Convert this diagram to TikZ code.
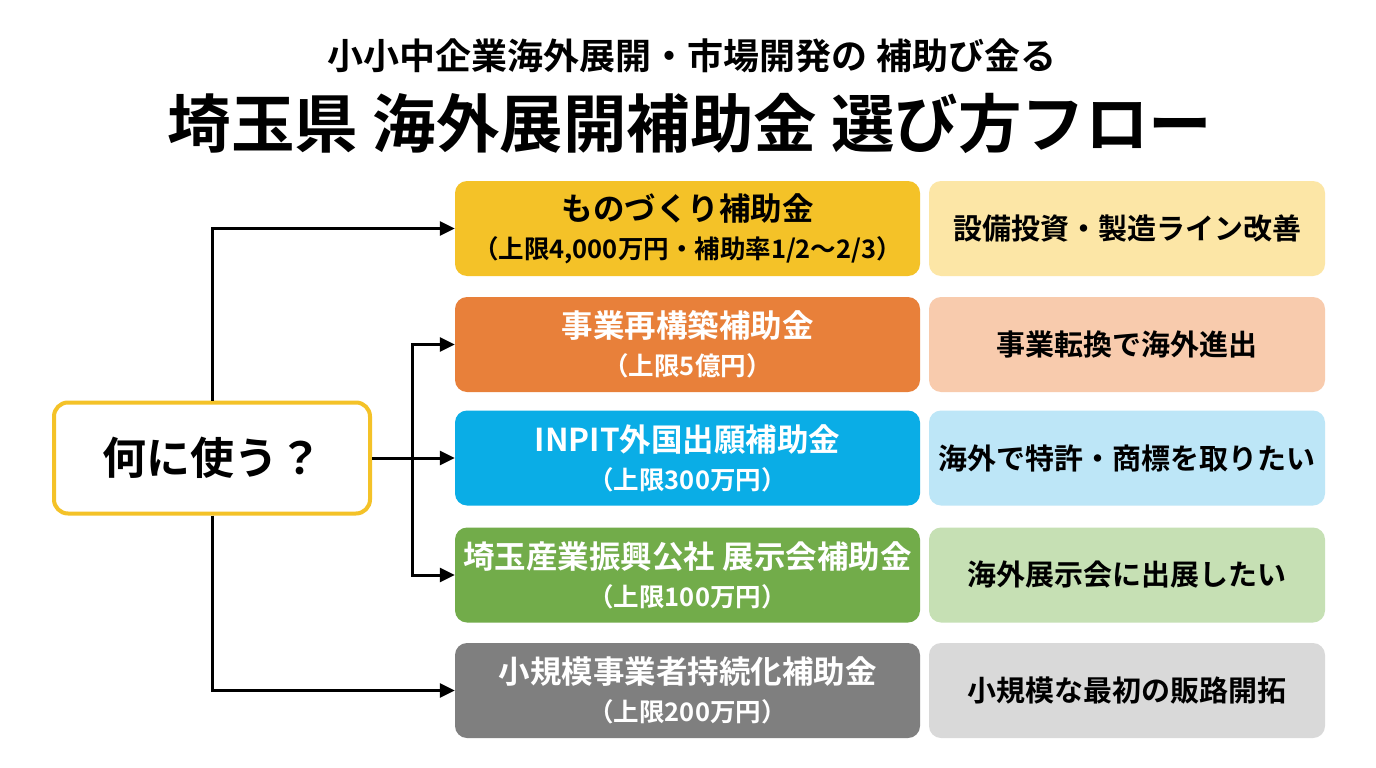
\documentclass[tikz,border=0pt]{standalone}
\usepackage{fontspec}
\setmainfont{Noto Sans CJK JP}[BoldFont={Noto Sans CJK JP Bold}]
\usetikzlibrary{arrows.meta}
\definecolor{cyellow}{HTML}{F4C228}
\definecolor{corange}{HTML}{E8803A}
\definecolor{cblue}{HTML}{0AADE6}
\definecolor{cgreen}{HTML}{72AC4A}
\definecolor{cgray}{HTML}{7F7F7F}
\definecolor{lyellow}{HTML}{FCE6A6}
\definecolor{lorange}{HTML}{F8CBAD}
\definecolor{lblue}{HTML}{BDE6F7}
\definecolor{lgreen}{HTML}{C6E0B4}
\definecolor{lgray}{HTML}{D9D9D9}
\tikzset{
  grant/.style={rounded corners=12pt, minimum width=465pt, minimum height=95pt,
    align=center, text=white, font=\bfseries\fontsize{25.5}{38}\selectfont},
  purpose/.style={rounded corners=12pt, minimum width=396pt, minimum height=95pt,
    font=\bfseries\fontsize{29}{34}\selectfont},
  branch/.style={line width=3pt, -{Triangle[length=15pt,width=14pt]}}
}
\newcommand{\grantname}[1]{{\fontsize{31.5}{38}\selectfont #1}}
\begin{document}
\begin{tikzpicture}[x=1pt, y=-1pt]
  \fill[white] (0,0) rectangle (1376,768);
  \useasboundingbox (0,0) rectangle (1376,768);
  % titles
  \node[font=\bfseries\fontsize{36}{42}\selectfont] (subtitle) at (692,56) {小小中企業海外展開・市場開発の 補助び金る};
  \node[font=\bfseries\fontsize{63.5}{72}\selectfont] (title) at (690,123) {埼玉県 海外展開補助金 選び方フロー};
  % start
  \node[draw=cyellow, line width=4pt, fill=white, rounded corners=14pt, minimum width=316pt,
    minimum height=111pt, font=\bfseries\fontsize{44}{50}\selectfont] (use) at (212,458) {何に使う？};
  % grants
  \node[grant, fill=cyellow, text=black] (mono) at (687.5,228.5) {\grantname{ものづくり補助金}\\（上限4,000万円・補助率1/2〜2/3）};
  \node[grant, fill=corange] (restr) at (687.5,344.5) {\grantname{事業再構築補助金}\\（上限5億円）};
  \node[grant, fill=cblue] (inpit) at (687.5,458) {\grantname{INPIT外国出願補助金}\\（上限300万円）};
  \node[grant, fill=cgreen] (expo) at (687.5,575) {\grantname{埼玉産業振興公社 展示会補助金}\\（上限100万円）};
  \node[grant, fill=cgray] (small) at (687.5,690.5) {\grantname{小規模事業者持続化補助金}\\（上限200万円）};
  % purposes
  \node[purpose, fill=lyellow] (monop) at (1127,228.5) {設備投資・製造ライン改善};
  \node[purpose, fill=lorange] (restrp) at (1127,344.5) {事業転換で海外進出};
  \node[purpose, fill=lblue] (inpitp) at (1127,458) {海外で特許・商標を取りたい};
  \node[purpose, fill=lgreen] (expop) at (1127,575) {海外展示会に出展したい};
  \node[purpose, fill=lgray] (smallp) at (1127,690.5) {小規模な最初の販路開拓};
  % connectors
  \coordinate (split) at (412,458);
  \draw[branch] (use.north) |- (mono.west);
  \draw[branch] (use.south) |- (small.west);
  \draw[branch] (use.east) -- (inpit.west);
  \draw[branch] (split) |- (restr.west);
  \draw[branch] (split) |- (expo.west);
\end{tikzpicture}
\end{document}
